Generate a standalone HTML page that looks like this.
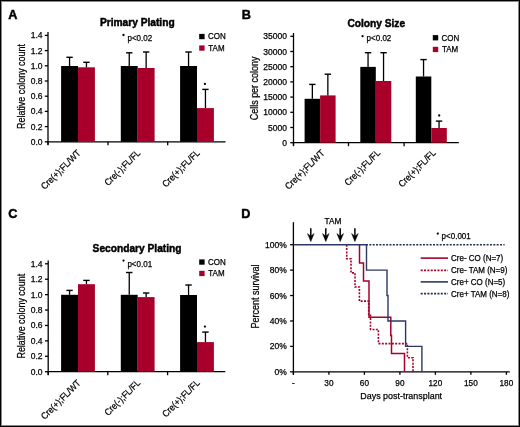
<!DOCTYPE html>
<html><head><meta charset="utf-8"><style>
html,body{margin:0;padding:0;background:#fff;width:520px;height:427px;overflow:hidden}
svg text{font-family:"Liberation Sans", sans-serif;stroke:#000;stroke-width:0.25px}
svg text[font-weight="bold"]{stroke-width:0.45px}
</style></head><body>
<svg width="520" height="427" viewBox="0 0 520 427" style="display:block;will-change:transform">
<rect x="0" y="0" width="520" height="427" fill="#000"/>
<rect x="1" y="1" width="518" height="425" fill="#8a8a8a"/>
<rect x="2" y="2" width="516" height="423" fill="#fff"/>
<text x="8.2" y="18.8" font-size="12.7" text-anchor="start" font-weight="bold" fill="#000" >A</text>
<text x="99.9" y="26.4" font-size="10.2" text-anchor="start" font-weight="bold" fill="#000" >Primary Plating</text>
<line x1="48.00" y1="32.00" x2="48.00" y2="144.80" stroke="#000" stroke-width="1.3" />
<line x1="44.80" y1="141.80" x2="48.00" y2="141.80" stroke="#000" stroke-width="1.3" />
<text x="42.5" y="144.8" font-size="8.5" text-anchor="end" font-weight="normal" fill="#000" >0.0</text>
<line x1="44.80" y1="126.60" x2="48.00" y2="126.60" stroke="#000" stroke-width="1.3" />
<text x="42.5" y="129.60000000000002" font-size="8.5" text-anchor="end" font-weight="normal" fill="#000" >0.2</text>
<line x1="44.80" y1="111.40" x2="48.00" y2="111.40" stroke="#000" stroke-width="1.3" />
<text x="42.5" y="114.4" font-size="8.5" text-anchor="end" font-weight="normal" fill="#000" >0.4</text>
<line x1="44.80" y1="96.20" x2="48.00" y2="96.20" stroke="#000" stroke-width="1.3" />
<text x="42.5" y="99.2" font-size="8.5" text-anchor="end" font-weight="normal" fill="#000" >0.6</text>
<line x1="44.80" y1="81.00" x2="48.00" y2="81.00" stroke="#000" stroke-width="1.3" />
<text x="42.5" y="84.0" font-size="8.5" text-anchor="end" font-weight="normal" fill="#000" >0.8</text>
<line x1="44.80" y1="65.80" x2="48.00" y2="65.80" stroke="#000" stroke-width="1.3" />
<text x="42.5" y="68.8" font-size="8.5" text-anchor="end" font-weight="normal" fill="#000" >1.0</text>
<line x1="44.80" y1="50.60" x2="48.00" y2="50.60" stroke="#000" stroke-width="1.3" />
<text x="42.5" y="53.599999999999994" font-size="8.5" text-anchor="end" font-weight="normal" fill="#000" >1.2</text>
<line x1="44.80" y1="35.40" x2="48.00" y2="35.40" stroke="#000" stroke-width="1.3" />
<text x="42.5" y="38.39999999999999" font-size="8.5" text-anchor="end" font-weight="normal" fill="#000" >1.4</text>
<line x1="48.00" y1="141.80" x2="225.50" y2="141.80" stroke="#000" stroke-width="1.3" />
<line x1="48.00" y1="141.80" x2="48.00" y2="145.30" stroke="#000" stroke-width="1.3" />
<line x1="108.00" y1="141.80" x2="108.00" y2="145.30" stroke="#000" stroke-width="1.3" />
<line x1="167.70" y1="141.80" x2="167.70" y2="145.30" stroke="#000" stroke-width="1.3" />
<rect x="61.10" y="66.00" width="16.90" height="75.80" fill="#000"/>
<rect x="78.00" y="67.30" width="16.90" height="74.50" fill="#a8002a"/>
<line x1="69.55" y1="66.00" x2="69.55" y2="57.30" stroke="#000" stroke-width="1.3" />
<line x1="66.35" y1="57.30" x2="72.75" y2="57.30" stroke="#000" stroke-width="1.4" />
<line x1="86.45" y1="67.30" x2="86.45" y2="62.30" stroke="#000" stroke-width="1.3" />
<line x1="83.25" y1="62.30" x2="89.65" y2="62.30" stroke="#000" stroke-width="1.4" />
<rect x="120.80" y="66.00" width="16.90" height="75.80" fill="#000"/>
<rect x="137.70" y="68.00" width="16.90" height="73.80" fill="#a8002a"/>
<line x1="129.25" y1="66.00" x2="129.25" y2="52.80" stroke="#000" stroke-width="1.3" />
<line x1="126.05" y1="52.80" x2="132.45" y2="52.80" stroke="#000" stroke-width="1.4" />
<line x1="146.15" y1="68.00" x2="146.15" y2="52.00" stroke="#000" stroke-width="1.3" />
<line x1="142.95" y1="52.00" x2="149.35" y2="52.00" stroke="#000" stroke-width="1.4" />
<rect x="180.10" y="66.00" width="16.90" height="75.80" fill="#000"/>
<rect x="197.00" y="108.10" width="16.90" height="33.70" fill="#a8002a"/>
<line x1="188.55" y1="66.00" x2="188.55" y2="52.00" stroke="#000" stroke-width="1.3" />
<line x1="185.35" y1="52.00" x2="191.75" y2="52.00" stroke="#000" stroke-width="1.4" />
<line x1="205.45" y1="108.10" x2="205.45" y2="89.40" stroke="#000" stroke-width="1.3" />
<line x1="202.25" y1="89.40" x2="208.65" y2="89.40" stroke="#000" stroke-width="1.4" />
<text transform="translate(25,86.5) rotate(-90)" font-size="10.7" text-anchor="middle" textLength="85" lengthAdjust="spacingAndGlyphs">Relative colony count</text>
<circle cx="123.5" cy="35.0" r="1.15" fill="#000"/>
<text x="127.5" y="40.6" font-size="8.6" text-anchor="start" font-weight="normal" fill="#000" textLength="24.70" lengthAdjust="spacingAndGlyphs">p&lt;0.02</text>
<rect x="199.20" y="33.90" width="5.40" height="5.30" fill="#000"/>
<text x="208.0" y="39.3" font-size="8.6" text-anchor="start" font-weight="normal" fill="#000" textLength="17.78" lengthAdjust="spacingAndGlyphs">CON</text>
<rect x="199.20" y="45.40" width="5.40" height="5.30" fill="#a8002a"/>
<text x="208.29999999999998" y="50.8" font-size="8.6" text-anchor="start" font-weight="normal" fill="#000" textLength="16.30" lengthAdjust="spacingAndGlyphs">TAM</text>
<text transform="translate(81.20,153.60) rotate(-45)" font-size="9.3" text-anchor="end" textLength="51.57" lengthAdjust="spacingAndGlyphs">Cre(+);FL/WT</text>
<text transform="translate(140.90,153.60) rotate(-45)" font-size="9.3" text-anchor="end" textLength="46.20" lengthAdjust="spacingAndGlyphs">Cre(-);FL/FL</text>
<text transform="translate(200.20,153.60) rotate(-45)" font-size="9.3" text-anchor="end" textLength="48.32" lengthAdjust="spacingAndGlyphs">Cre(+);FL/FL</text>
<circle cx="204.9" cy="83.9" r="1.15" fill="#000"/>
<text x="241.8" y="18.8" font-size="12.7" text-anchor="start" font-weight="bold" fill="#000" >B</text>
<text x="347.4" y="27.0" font-size="10.2" text-anchor="start" font-weight="bold" fill="#000" >Colony Size</text>
<line x1="293.50" y1="33.00" x2="293.50" y2="145.70" stroke="#000" stroke-width="1.3" />
<line x1="290.30" y1="142.70" x2="293.50" y2="142.70" stroke="#000" stroke-width="1.3" />
<text x="287.0" y="145.7" font-size="8.5" text-anchor="end" font-weight="normal" fill="#000" >0</text>
<line x1="290.30" y1="127.50" x2="293.50" y2="127.50" stroke="#000" stroke-width="1.3" />
<text x="287.0" y="130.5" font-size="8.5" text-anchor="end" font-weight="normal" fill="#000" >5000</text>
<line x1="290.30" y1="112.30" x2="293.50" y2="112.30" stroke="#000" stroke-width="1.3" />
<text x="287.0" y="115.29999999999998" font-size="8.5" text-anchor="end" font-weight="normal" fill="#000" >10000</text>
<line x1="290.30" y1="97.10" x2="293.50" y2="97.10" stroke="#000" stroke-width="1.3" />
<text x="287.0" y="100.1" font-size="8.5" text-anchor="end" font-weight="normal" fill="#000" >15000</text>
<line x1="290.30" y1="81.90" x2="293.50" y2="81.90" stroke="#000" stroke-width="1.3" />
<text x="287.0" y="84.89999999999999" font-size="8.5" text-anchor="end" font-weight="normal" fill="#000" >20000</text>
<line x1="290.30" y1="66.70" x2="293.50" y2="66.70" stroke="#000" stroke-width="1.3" />
<text x="287.0" y="69.69999999999999" font-size="8.5" text-anchor="end" font-weight="normal" fill="#000" >25000</text>
<line x1="290.30" y1="51.50" x2="293.50" y2="51.50" stroke="#000" stroke-width="1.3" />
<text x="287.0" y="54.5" font-size="8.5" text-anchor="end" font-weight="normal" fill="#000" >30000</text>
<line x1="290.30" y1="36.30" x2="293.50" y2="36.30" stroke="#000" stroke-width="1.3" />
<text x="287.0" y="39.3" font-size="8.5" text-anchor="end" font-weight="normal" fill="#000" >35000</text>
<line x1="293.50" y1="142.70" x2="458.80" y2="142.70" stroke="#000" stroke-width="1.3" />
<line x1="293.50" y1="142.70" x2="293.50" y2="146.20" stroke="#000" stroke-width="1.3" />
<line x1="348.50" y1="142.70" x2="348.50" y2="146.20" stroke="#000" stroke-width="1.3" />
<line x1="404.10" y1="142.70" x2="404.10" y2="146.20" stroke="#000" stroke-width="1.3" />
<rect x="304.60" y="98.80" width="15.50" height="43.90" fill="#000"/>
<rect x="320.10" y="95.40" width="15.50" height="47.30" fill="#a8002a"/>
<line x1="312.35" y1="98.80" x2="312.35" y2="84.40" stroke="#000" stroke-width="1.3" />
<line x1="309.15" y1="84.40" x2="315.55" y2="84.40" stroke="#000" stroke-width="1.4" />
<line x1="327.85" y1="95.40" x2="327.85" y2="74.20" stroke="#000" stroke-width="1.3" />
<line x1="324.65" y1="74.20" x2="331.05" y2="74.20" stroke="#000" stroke-width="1.4" />
<rect x="360.30" y="66.90" width="15.50" height="75.80" fill="#000"/>
<rect x="375.80" y="81.00" width="15.50" height="61.70" fill="#a8002a"/>
<line x1="368.05" y1="66.90" x2="368.05" y2="52.70" stroke="#000" stroke-width="1.3" />
<line x1="364.85" y1="52.70" x2="371.25" y2="52.70" stroke="#000" stroke-width="1.4" />
<line x1="383.55" y1="81.00" x2="383.55" y2="52.70" stroke="#000" stroke-width="1.3" />
<line x1="380.35" y1="52.70" x2="386.75" y2="52.70" stroke="#000" stroke-width="1.4" />
<rect x="415.80" y="76.50" width="15.50" height="66.20" fill="#000"/>
<rect x="431.30" y="128.00" width="15.50" height="14.70" fill="#a8002a"/>
<line x1="423.55" y1="76.50" x2="423.55" y2="59.60" stroke="#000" stroke-width="1.3" />
<line x1="420.35" y1="59.60" x2="426.75" y2="59.60" stroke="#000" stroke-width="1.4" />
<line x1="439.05" y1="128.00" x2="439.05" y2="121.10" stroke="#000" stroke-width="1.3" />
<line x1="435.85" y1="121.10" x2="442.25" y2="121.10" stroke="#000" stroke-width="1.4" />
<text transform="translate(257.6,88.4) rotate(-90)" font-size="10.7" text-anchor="middle" textLength="63.7" lengthAdjust="spacingAndGlyphs">Cells per colony</text>
<circle cx="362.6" cy="36.2" r="1.15" fill="#000"/>
<text x="366.6" y="41.0" font-size="8.6" text-anchor="start" font-weight="normal" fill="#000" textLength="24.70" lengthAdjust="spacingAndGlyphs">p&lt;0.02</text>
<rect x="432.80" y="35.10" width="5.40" height="5.30" fill="#000"/>
<text x="441.6" y="40.5" font-size="8.6" text-anchor="start" font-weight="normal" fill="#000" textLength="17.78" lengthAdjust="spacingAndGlyphs">CON</text>
<rect x="432.80" y="46.80" width="5.40" height="5.30" fill="#a8002a"/>
<text x="441.90000000000003" y="52.2" font-size="8.6" text-anchor="start" font-weight="normal" fill="#000" textLength="16.30" lengthAdjust="spacingAndGlyphs">TAM</text>
<text transform="translate(325.10,153.50) rotate(-45)" font-size="9.3" text-anchor="end" textLength="51.57" lengthAdjust="spacingAndGlyphs">Cre(+);FL/WT</text>
<text transform="translate(380.80,153.50) rotate(-45)" font-size="9.3" text-anchor="end" textLength="46.20" lengthAdjust="spacingAndGlyphs">Cre(-);FL/FL</text>
<text transform="translate(436.30,153.50) rotate(-45)" font-size="9.3" text-anchor="end" textLength="48.32" lengthAdjust="spacingAndGlyphs">Cre(+);FL/FL</text>
<circle cx="439.2" cy="115.5" r="1.15" fill="#000"/>
<text x="8.2" y="217.8" font-size="12.7" text-anchor="start" font-weight="bold" fill="#000" >C</text>
<text x="92.6" y="252.3" font-size="10.2" text-anchor="start" font-weight="bold" fill="#000" >Secondary Plating</text>
<line x1="48.20" y1="260.60" x2="48.20" y2="374.70" stroke="#000" stroke-width="1.3" />
<line x1="45.00" y1="371.70" x2="48.20" y2="371.70" stroke="#000" stroke-width="1.3" />
<text x="42.5" y="374.7" font-size="8.5" text-anchor="end" font-weight="normal" fill="#000" >0.0</text>
<line x1="45.00" y1="356.29" x2="48.20" y2="356.29" stroke="#000" stroke-width="1.3" />
<text x="42.5" y="359.2857142857143" font-size="8.5" text-anchor="end" font-weight="normal" fill="#000" >0.2</text>
<line x1="45.00" y1="340.87" x2="48.20" y2="340.87" stroke="#000" stroke-width="1.3" />
<text x="42.5" y="343.87142857142857" font-size="8.5" text-anchor="end" font-weight="normal" fill="#000" >0.4</text>
<line x1="45.00" y1="325.46" x2="48.20" y2="325.46" stroke="#000" stroke-width="1.3" />
<text x="42.5" y="328.45714285714286" font-size="8.5" text-anchor="end" font-weight="normal" fill="#000" >0.6</text>
<line x1="45.00" y1="310.04" x2="48.20" y2="310.04" stroke="#000" stroke-width="1.3" />
<text x="42.5" y="313.04285714285714" font-size="8.5" text-anchor="end" font-weight="normal" fill="#000" >0.8</text>
<line x1="45.00" y1="294.63" x2="48.20" y2="294.63" stroke="#000" stroke-width="1.3" />
<text x="42.5" y="297.62857142857143" font-size="8.5" text-anchor="end" font-weight="normal" fill="#000" >1.0</text>
<line x1="45.00" y1="279.21" x2="48.20" y2="279.21" stroke="#000" stroke-width="1.3" />
<text x="42.5" y="282.2142857142857" font-size="8.5" text-anchor="end" font-weight="normal" fill="#000" >1.2</text>
<line x1="45.00" y1="263.80" x2="48.20" y2="263.80" stroke="#000" stroke-width="1.3" />
<text x="42.5" y="266.8" font-size="8.5" text-anchor="end" font-weight="normal" fill="#000" >1.4</text>
<line x1="48.20" y1="371.70" x2="225.30" y2="371.70" stroke="#000" stroke-width="1.3" />
<line x1="48.20" y1="371.70" x2="48.20" y2="375.20" stroke="#000" stroke-width="1.3" />
<line x1="107.80" y1="371.70" x2="107.80" y2="375.20" stroke="#000" stroke-width="1.3" />
<line x1="167.60" y1="371.70" x2="167.60" y2="375.20" stroke="#000" stroke-width="1.3" />
<rect x="61.10" y="294.80" width="16.90" height="76.90" fill="#000"/>
<rect x="78.00" y="284.20" width="16.90" height="87.50" fill="#a8002a"/>
<line x1="69.55" y1="294.80" x2="69.55" y2="290.40" stroke="#000" stroke-width="1.3" />
<line x1="66.35" y1="290.40" x2="72.75" y2="290.40" stroke="#000" stroke-width="1.4" />
<line x1="86.45" y1="284.20" x2="86.45" y2="280.40" stroke="#000" stroke-width="1.3" />
<line x1="83.25" y1="280.40" x2="89.65" y2="280.40" stroke="#000" stroke-width="1.4" />
<rect x="120.80" y="294.80" width="16.90" height="76.90" fill="#000"/>
<rect x="137.70" y="297.10" width="16.90" height="74.60" fill="#a8002a"/>
<line x1="129.25" y1="294.80" x2="129.25" y2="272.50" stroke="#000" stroke-width="1.3" />
<line x1="126.05" y1="272.50" x2="132.45" y2="272.50" stroke="#000" stroke-width="1.4" />
<line x1="146.15" y1="297.10" x2="146.15" y2="293.00" stroke="#000" stroke-width="1.3" />
<line x1="142.95" y1="293.00" x2="149.35" y2="293.00" stroke="#000" stroke-width="1.4" />
<rect x="180.10" y="295.00" width="16.90" height="76.70" fill="#000"/>
<rect x="197.00" y="342.10" width="16.90" height="29.60" fill="#a8002a"/>
<line x1="188.55" y1="295.00" x2="188.55" y2="285.00" stroke="#000" stroke-width="1.3" />
<line x1="185.35" y1="285.00" x2="191.75" y2="285.00" stroke="#000" stroke-width="1.4" />
<line x1="205.45" y1="342.10" x2="205.45" y2="332.10" stroke="#000" stroke-width="1.3" />
<line x1="202.25" y1="332.10" x2="208.65" y2="332.10" stroke="#000" stroke-width="1.4" />
<text transform="translate(25,316.2) rotate(-90)" font-size="10.7" text-anchor="middle" textLength="84.7" lengthAdjust="spacingAndGlyphs">Relative colony count</text>
<circle cx="123.5" cy="260.6" r="1.15" fill="#000"/>
<text x="127.4" y="267.4" font-size="8.6" text-anchor="start" font-weight="normal" fill="#000" textLength="24.70" lengthAdjust="spacingAndGlyphs">p&lt;0.01</text>
<rect x="199.20" y="259.40" width="5.40" height="5.30" fill="#000"/>
<text x="208.0" y="264.8" font-size="8.6" text-anchor="start" font-weight="normal" fill="#000" textLength="17.78" lengthAdjust="spacingAndGlyphs">CON</text>
<rect x="199.20" y="270.80" width="5.40" height="5.30" fill="#a8002a"/>
<text x="208.29999999999998" y="276.2" font-size="8.6" text-anchor="start" font-weight="normal" fill="#000" textLength="16.30" lengthAdjust="spacingAndGlyphs">TAM</text>
<text transform="translate(81.20,383.50) rotate(-45)" font-size="9.3" text-anchor="end" textLength="51.57" lengthAdjust="spacingAndGlyphs">Cre(+);FL/WT</text>
<text transform="translate(140.90,383.50) rotate(-45)" font-size="9.3" text-anchor="end" textLength="46.20" lengthAdjust="spacingAndGlyphs">Cre(-);FL/FL</text>
<text transform="translate(200.20,383.50) rotate(-45)" font-size="9.3" text-anchor="end" textLength="48.32" lengthAdjust="spacingAndGlyphs">Cre(+);FL/FL</text>
<circle cx="204.9" cy="326.6" r="1.15" fill="#000"/>
<text x="241.3" y="217.9" font-size="12.7" text-anchor="start" font-weight="bold" fill="#000" >D</text>
<line x1="293.40" y1="222.20" x2="293.40" y2="374.80" stroke="#000" stroke-width="1.3" />
<line x1="290.10" y1="371.80" x2="293.40" y2="371.80" stroke="#000" stroke-width="1.3" />
<text x="286.8" y="374.8" font-size="8.5" text-anchor="end" font-weight="normal" fill="#000" >0%</text>
<line x1="290.10" y1="346.38" x2="293.40" y2="346.38" stroke="#000" stroke-width="1.3" />
<text x="286.8" y="349.38" font-size="8.5" text-anchor="end" font-weight="normal" fill="#000" >20%</text>
<line x1="290.10" y1="320.96" x2="293.40" y2="320.96" stroke="#000" stroke-width="1.3" />
<text x="286.8" y="323.96" font-size="8.5" text-anchor="end" font-weight="normal" fill="#000" >40%</text>
<line x1="290.10" y1="295.54" x2="293.40" y2="295.54" stroke="#000" stroke-width="1.3" />
<text x="286.8" y="298.53999999999996" font-size="8.5" text-anchor="end" font-weight="normal" fill="#000" >60%</text>
<line x1="290.10" y1="270.12" x2="293.40" y2="270.12" stroke="#000" stroke-width="1.3" />
<text x="286.8" y="273.12" font-size="8.5" text-anchor="end" font-weight="normal" fill="#000" >80%</text>
<line x1="290.10" y1="244.70" x2="293.40" y2="244.70" stroke="#000" stroke-width="1.3" />
<text x="286.8" y="247.7" font-size="8.5" text-anchor="end" font-weight="normal" fill="#000" >100%</text>
<line x1="293.40" y1="371.80" x2="509.80" y2="371.80" stroke="#000" stroke-width="1.3" />
<line x1="293.40" y1="371.80" x2="293.40" y2="374.80" stroke="#000" stroke-width="1.3" />
<text x="293.4" y="385.6" font-size="8.2" text-anchor="middle" font-weight="normal" fill="#000" >-</text>
<line x1="328.90" y1="371.80" x2="328.90" y2="374.80" stroke="#000" stroke-width="1.3" />
<text x="328.9" y="385.6" font-size="8.2" text-anchor="middle" font-weight="normal" fill="#000" >30</text>
<line x1="364.40" y1="371.80" x2="364.40" y2="374.80" stroke="#000" stroke-width="1.3" />
<text x="364.4" y="385.6" font-size="8.2" text-anchor="middle" font-weight="normal" fill="#000" >60</text>
<line x1="399.90" y1="371.80" x2="399.90" y2="374.80" stroke="#000" stroke-width="1.3" />
<text x="399.9" y="385.6" font-size="8.2" text-anchor="middle" font-weight="normal" fill="#000" >90</text>
<line x1="435.40" y1="371.80" x2="435.40" y2="374.80" stroke="#000" stroke-width="1.3" />
<text x="435.4" y="385.6" font-size="8.2" text-anchor="middle" font-weight="normal" fill="#000" >120</text>
<line x1="470.90" y1="371.80" x2="470.90" y2="374.80" stroke="#000" stroke-width="1.3" />
<text x="470.9" y="385.6" font-size="8.2" text-anchor="middle" font-weight="normal" fill="#000" >150</text>
<line x1="506.40" y1="371.80" x2="506.40" y2="374.80" stroke="#000" stroke-width="1.3" />
<text x="506.4" y="385.6" font-size="8.2" text-anchor="middle" font-weight="normal" fill="#000" >180</text>
<text x="360.3" y="399.4" font-size="9.8" text-anchor="start" font-weight="normal" fill="#000" textLength="81.8" lengthAdjust="spacingAndGlyphs">Days post-transplant</text>
<text transform="translate(259.1,296.5) rotate(-90)" font-size="10.2" text-anchor="middle" textLength="64" lengthAdjust="spacingAndGlyphs">Percent survival</text>
<text x="324.6" y="223.6" font-size="8.3" text-anchor="start" font-weight="normal" fill="#000" >TAM</text>
<line x1="310.80" y1="228.30" x2="310.80" y2="237.00" stroke="#000" stroke-width="1.5" />
<path d="M307.5,233.6 L310.8,236.2 L314.1,233.6 L310.8,241.6 Z" fill="#000" stroke="#000" stroke-width="0.5" stroke-linejoin="round"/>
<line x1="325.80" y1="228.30" x2="325.80" y2="237.00" stroke="#000" stroke-width="1.5" />
<path d="M322.5,233.6 L325.8,236.2 L329.1,233.6 L325.8,241.6 Z" fill="#000" stroke="#000" stroke-width="0.5" stroke-linejoin="round"/>
<line x1="340.20" y1="228.30" x2="340.20" y2="237.00" stroke="#000" stroke-width="1.5" />
<path d="M336.9,233.6 L340.2,236.2 L343.5,233.6 L340.2,241.6 Z" fill="#000" stroke="#000" stroke-width="0.5" stroke-linejoin="round"/>
<line x1="354.90" y1="228.30" x2="354.90" y2="237.00" stroke="#000" stroke-width="1.5" />
<path d="M351.59999999999997,233.6 L354.9,236.2 L358.2,233.6 L354.9,241.6 Z" fill="#000" stroke="#000" stroke-width="0.5" stroke-linejoin="round"/>
<circle cx="437.8" cy="233.6" r="1.15" fill="#000"/>
<text x="441.6" y="239.4" font-size="8.6" text-anchor="start" font-weight="normal" fill="#000" textLength="29.15" lengthAdjust="spacingAndGlyphs">p&lt;0.001</text>
<path d="M366.0,244.7 L504.6,244.7" fill="none" stroke="#232d52" stroke-width="1.6" stroke-dasharray="2,1.35" stroke-linejoin="miter"/>
<path d="M346.7,244.7 L346.7,258.8 L351.0,258.8 L351.0,272.9 L355.0,272.9 L355.0,287.0 L359.4,287.0 L359.4,301.1 L368.7,301.1 L368.7,315.4 L370.5,315.4 L370.5,329.5 L378.4,329.5 L378.4,343.6 L407.4,343.6 L407.4,357.7 L413.0,357.7 L413.0,371.8" fill="none" stroke="#a8002a" stroke-width="1.6" stroke-dasharray="2,1.35" stroke-linejoin="miter"/>
<path d="M359.5,244.7 L359.5,262.9 L363.5,262.9 L363.5,281.1 L369.0,281.1 L369.0,317.3 L390.8,317.3 L390.8,335.4 L391.5,335.4 L391.5,353.6 L404.5,353.6 L404.5,371.8" fill="none" stroke="#a8002a" stroke-width="1.5"  stroke-linejoin="miter"/>
<path d="M293.4,244.7 L366.5,244.7 L366.5,270.1 L387.0,270.1 L387.0,295.5 L388.0,295.5 L388.0,321.0 L405.6,321.0 L405.6,346.4 L421.9,346.4 L421.9,371.8" fill="none" stroke="#2c3862" stroke-width="1.4"  stroke-linejoin="miter"/>
<path d="M420.7,258.1 L448.0,258.1" fill="none" stroke="#a8002a" stroke-width="1.6"  stroke-linejoin="miter"/>
<text x="451.0" y="261.1" font-size="8.6" text-anchor="start" font-weight="normal" fill="#000" textLength="52.24" lengthAdjust="spacingAndGlyphs">Cre- CO (N=7)</text>
<path d="M420.7,270.4 L448.0,270.4" fill="none" stroke="#a8002a" stroke-width="1.6" stroke-dasharray="2,1.35" stroke-linejoin="miter"/>
<text x="451.0" y="273.4" font-size="8.6" text-anchor="start" font-weight="normal" fill="#000" textLength="56.38" lengthAdjust="spacingAndGlyphs">Cre- TAM (N=9)</text>
<path d="M420.7,281.9 L448.0,281.9" fill="none" stroke="#2c3862" stroke-width="1.6"  stroke-linejoin="miter"/>
<text x="451.0" y="284.9" font-size="8.6" text-anchor="start" font-weight="normal" fill="#000" textLength="54.24" lengthAdjust="spacingAndGlyphs">Cre+ CO (N=5)</text>
<path d="M420.7,293.6 L448.0,293.6" fill="none" stroke="#232d52" stroke-width="1.6" stroke-dasharray="2,1.35" stroke-linejoin="miter"/>
<text x="451.0" y="296.6" font-size="8.6" text-anchor="start" font-weight="normal" fill="#000" textLength="58.38" lengthAdjust="spacingAndGlyphs">Cre+ TAM (N=8)</text>
</svg>
</body></html>
